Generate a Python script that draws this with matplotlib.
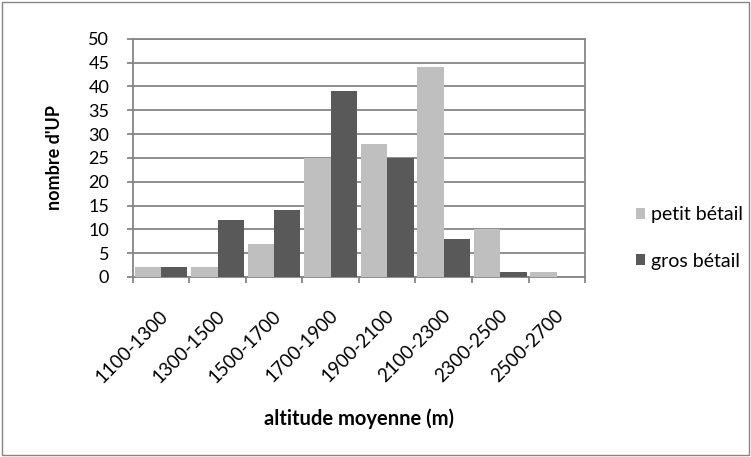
import numpy as np
import matplotlib.pyplot as plt
import matplotlib.transforms as mtransforms
from matplotlib.patches import Rectangle

categories = ['1100-1300', '1300-1500', '1500-1700', '1700-1900',
              '1900-2100', '2100-2300', '2300-2500', '2500-2700']
petit_betail = [2, 2, 7, 25, 28, 44, 10, 1]
gros_betail = [2, 12, 14, 39, 25, 8, 1, 0]

plt.rcParams['font.family'] = ['Lato', 'DejaVu Sans']

fig = plt.figure(figsize=(7.51, 4.57), dpi=100)
ax = fig.add_axes([0.177, 0.394, 0.602, 0.521])

x = np.arange(len(categories))
w = 0.465
ax.bar(x - w / 2, petit_betail, w, color='#bfbfbf', label='petit bétail', zorder=3)
ax.bar(x + w / 2, gros_betail, w, color='#595959', label='gros bétail', zorder=3)

ax.set_xlim(-0.5, len(categories) - 0.5)
ax.set_ylim(0, 50)
ax.set_yticks(range(0, 51, 5))
ax.yaxis.grid(True, color='#868686', linewidth=1.3, zorder=0)

ax.set_xticks(x)
ax.set_xticklabels(categories, rotation=45, ha='right', va='center',
                   rotation_mode='anchor', fontsize=13.5)
ax.tick_params(axis='x', length=0, pad=26)
shift = mtransforms.ScaledTranslation(4 / 100, 0, fig.dpi_scale_trans)
for lbl in ax.get_xticklabels():
    lbl.set_transform(lbl.get_transform() + shift)
ax.set_xticks(np.arange(-0.5, len(categories)), minor=True)
ax.tick_params(axis='x', which='minor', length=4, width=1.3, color='#868686')
ax.tick_params(axis='y', length=4, width=1.3, color='#868686', labelsize=13, pad=13)

for s in ax.spines.values():
    s.set_color('#868686')
    s.set_linewidth(1.3)

ax.set_ylabel("nombre d'UP", fontsize=13, fontweight='bold', labelpad=18)
ax.set_xlabel('altitude moyenne (m)', fontsize=14.5, fontweight='bold', labelpad=16)

fig.legend(loc='center left', bbox_to_anchor=(626 / 751, 1 - 238 / 457),
           frameon=False, borderpad=0, fontsize=14, handlelength=0.5,
           handleheight=0.5, handletextpad=0.3, labelspacing=1.5)

fig.patches.append(Rectangle((0.003, 0.004), 0.994, 0.992, transform=fig.transFigure,
                             fill=False, edgecolor='#868686', linewidth=1))

fig.savefig('out.png', dpi=100)
